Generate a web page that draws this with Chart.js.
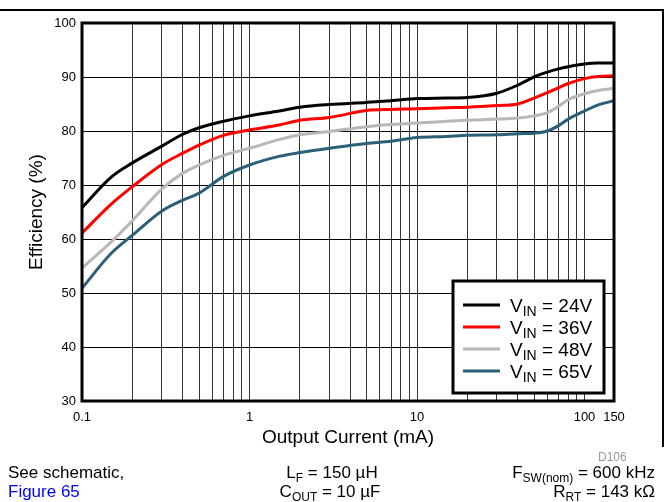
<!DOCTYPE html>
<html>
<head>
<meta charset="utf-8">
<script src="https://cdn.jsdelivr.net/npm/chart.js@4.4.1/dist/chart.umd.min.js"></script>
<style>
  body { margin: 0; background: #fff; font-family: "Liberation Sans", Arial, sans-serif; }
  #wrap { position: relative; width: 669px; height: 502px; overflow: hidden; }
  canvas { position: absolute; left: 0; top: 0; }
  #frame { position: absolute; left: -3px; top: 9px; width: 665px; height: 436px;
           border-top: 2px solid #000; border-right: 2px solid #000; }
  .note { position: absolute; font-size: 17px; line-height: 20px; color: #000; white-space: nowrap; }
  .note sub { font-size: 12px; vertical-align: -4px; line-height: 0; }
  .center { text-align: center; width: 220px; }
  .right { text-align: right; width: 260px; }
  #code { font-size: 12px; color: #999; }
</style>
</head>
<body>
<div id="wrap">
  <canvas id="effChart" width="669" height="502"></canvas>
  <div id="frame"></div>
  <div id="code" class="note" style="left:598px; top:447px;">D106</div>
  <div class="note" style="left:8px; top:463px;">See schematic,</div>
  <div class="note" style="left:8px; top:482px; color:#0000ff;">Figure 65</div>
  <div class="note center" style="left:222px; top:463px;">L<sub>F</sub> = 150 µH</div>
  <div class="note center" style="left:220px; top:482px;">C<sub>OUT</sub> = 10 µF</div>
  <div class="note right" style="left:395px; top:463px;">F<sub>SW(nom)</sub> = 600 kHz</div>
  <div class="note right" style="left:395px; top:482px;">R<sub>RT</sub> = 143 kΩ</div>
</div>
<script>
// Output current in mA (log axis)
var currents = [0.1, 0.15, 0.2, 0.3, 0.4, 0.5, 0.7, 1, 1.5, 2, 3, 5, 7, 10, 15, 20, 30, 40, 50, 60, 70, 80, 100, 120, 150];

// Efficiency (%) for each input voltage
var eff24 = [65.8, 71.5, 74.1, 77.2, 79.4, 80.6, 81.8, 82.8, 83.7, 84.4, 84.9, 85.3, 85.6, 86.0, 86.1, 86.2, 87.0, 88.5, 90.0, 90.9, 91.5, 91.9, 92.4, 92.6, 92.6];
var eff36 = [61.1, 66.5, 69.7, 73.8, 75.9, 77.4, 79.2, 80.2, 81.1, 82.0, 82.5, 83.8, 84.0, 84.1, 84.3, 84.4, 84.7, 85.0, 86.1, 87.1, 88.0, 88.8, 89.7, 90.1, 90.2];
var eff48 = [54.6, 59.5, 63.4, 69.3, 72.2, 73.7, 75.5, 76.8, 78.4, 79.3, 79.9, 80.8, 81.2, 81.5, 81.8, 82.0, 82.2, 82.4, 82.8, 83.4, 84.6, 85.8, 86.9, 87.5, 87.9];
var eff65 = [50.9, 57.4, 60.7, 65.2, 67.2, 68.5, 71.6, 73.7, 75.3, 76.0, 76.8, 77.7, 78.1, 78.8, 79.0, 79.2, 79.3, 79.5, 79.6, 80.0, 81.0, 82.2, 83.7, 84.8, 85.6];

var vinValues = ["24V", "36V", "48V", "65V"];
var lineColors = ["#000000", "#ff0000", "#b8b8b8", "#2c5f78"];

// Gridlines at every 1-2-...-9 step, labels only on these
var xTickLabels = [0.1, 1, 10, 100, 150];
var xGridValues = [0.1, 0.2, 0.3, 0.4, 0.5, 0.6, 0.7, 0.8, 0.9,
                   1, 2, 3, 4, 5, 6, 7, 8, 9,
                   10, 20, 30, 40, 50, 60, 70, 80, 90, 100, 150];

function toPoints(values) {
    return currents.map(function(c, i) { return { x: c, y: values[i] }; });
}

var seriesValues = [eff24, eff36, eff48, eff65];
var datasets = seriesValues.map(function(vals, i) {
    return {
        label: "VIN = " + vinValues[i],
        data: toPoints(vals),
        borderColor: lineColors[i],
        borderWidth: 3,
        pointRadius: 0,
        fill: false,
        cubicInterpolationMode: "monotone"
    };
});

// Thick plot frame and the boxed legend with subscripts
var framePlugin = {
    id: "framePlugin",
    afterDraw: function(chart) {
        var ctx = chart.ctx;
        var a = chart.chartArea;
        ctx.save();
        ctx.strokeStyle = "#000";
        ctx.lineWidth = 3;
        ctx.strokeRect(a.left, a.top, a.right - a.left, a.bottom - a.top);

        // legend box
        var bx = 453, by = 281, bw = 151, bh = 112;
        ctx.fillStyle = "#fff";
        ctx.fillRect(bx, by, bw, bh);
        ctx.lineWidth = 3;
        ctx.strokeRect(bx, by, bw, bh);

        chart.data.datasets.forEach(function(ds, i) {
            var y = 305 + i * 22;
            ctx.strokeStyle = ds.borderColor;
            ctx.lineWidth = 3;
            ctx.beginPath();
            ctx.moveTo(463, y);
            ctx.lineTo(500, y);
            ctx.stroke();

            ctx.fillStyle = "#000";
            ctx.textBaseline = "alphabetic";
            var x = 510;
            ctx.font = "19px 'Liberation Sans', Arial, sans-serif";
            ctx.fillText("V", x, y + 7);
            x += ctx.measureText("V").width;
            ctx.font = "14px 'Liberation Sans', Arial, sans-serif";
            ctx.fillText("IN", x, y + 11);
            x += ctx.measureText("IN").width;
            ctx.font = "19px 'Liberation Sans', Arial, sans-serif";
            ctx.fillText(" = " + vinValues[i], x, y + 7);
        });
        ctx.restore();
    }
};

var chart = new Chart(document.getElementById("effChart"), {
    type: "line",
    data: { datasets: datasets },
    options: {
        responsive: false,
        animation: false,
        layout: { padding: { top: 23, right: 55, left: 0, bottom: 0 } },
        plugins: {
            legend: { display: false },
            tooltip: { enabled: false }
        },
        scales: {
            x: {
                type: "logarithmic",
                min: 0.1,
                max: 150,
                afterBuildTicks: function(scale) {
                    scale.ticks = xGridValues.map(function(v) { return { value: v }; });
                },
                afterFit: function(scale) { scale.height = 101; },
                ticks: {
                    autoSkip: false,
                    maxRotation: 0,
                    padding: 9,
                    color: "#000",
                    font: { family: "'Liberation Sans', Arial, sans-serif", size: 13 },
                    callback: function(value) {
                        return xTickLabels.indexOf(value) >= 0 ? String(value) : "";
                    }
                },
                grid: { color: "#333", lineWidth: 1, drawTicks: false },
                border: { display: false },
                title: {
                    display: true,
                    text: "Output Current (mA)",
                    color: "#000",
                    font: { family: "'Liberation Sans', Arial, sans-serif", size: 19 },
                    padding: { top: 0, bottom: 53 }
                }
            },
            y: {
                min: 30,
                max: 100,
                afterFit: function(scale) { scale.width = 82; },
                ticks: {
                    stepSize: 10,
                    padding: 6,
                    color: "#000",
                    font: { family: "'Liberation Sans', Arial, sans-serif", size: 13 }
                },
                grid: { color: "#000", lineWidth: 1, drawTicks: false },
                border: { display: false },
                title: {
                    display: true,
                    text: "Efficiency (%)",
                    color: "#000",
                    font: { family: "'Liberation Sans', Arial, sans-serif", size: 19 },
                    padding: { top: 25, bottom: 0 }
                }
            }
        }
    },
    plugins: [framePlugin]
});
</script>
</body>
</html>
